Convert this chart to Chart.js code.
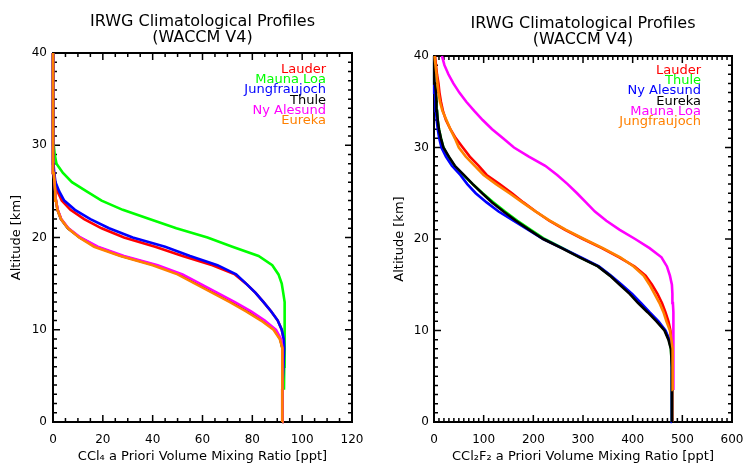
<!DOCTYPE html>
<html lang="en">
<head>
  <meta charset="UTF-8" />
  <title>IRWG Climatological Profiles</title>
  <script src="https://cdn.jsdelivr.net/npm/chart.js"></script>
  <style>
    body { margin: 0; background: #fff; overflow: hidden; }
    canvas { position: absolute; top: 0; }
  </style>
</head>
<body>
  <canvas id="ccl4Chart" width="372" height="464" style="left:0"></canvas>
  <canvas id="ccl2f2Chart" width="371" height="464" style="left:372px"></canvas>

  <script>
    // altitude levels [km], shared by every profile (null = below the station)
    const altitude = [0, 2, 3.5, 6, 8, 9, 10, 11, 12, 13, 14, 15, 16, 17, 18, 19, 20, 21, 22, 23, 24, 25, 26, 27, 28, 29, 30, 31, 32, 33, 34, 35, 36, 37, 38, 39, 40];

    // CCl4 [ppt]
    const ccl4Stations = ['Lauder', 'Mauna Loa', 'Jungfraujoch', 'Thule', 'Ny Alesund', 'Eureka'];
    const ccl4Colors = ['#ff0000', '#00ff00', '#0000ff', '#000000', '#ff00ff', '#ff8000'];
    const ccl4Lauder    = [92, 92, 92, 92.5, 92.8, 92.6, 91.8, 90.2, 87.5, 84.5, 81.3, 77.5, 73, 64, 52, 41, 28.5, 19.5, 12.5, 7, 3.5, 1.8, 0.8, 0.4, 0.15, 0.05, 0, 0, 0, 0, 0, 0, 0, 0, 0, 0, 0];
    const ccl4MaunaLoa  = [null, null, 92.7, 92.8, 93, 93, 93, 93, 93, 92.8, 92.4, 91.8, 90.5, 88, 82.5, 72, 62, 49.5, 38.7, 28, 19.5, 13.5, 7.6, 4, 1.4, 0.7, 0.3, 0.1, 0, 0, 0, 0, 0, 0, 0, 0, 0];
    const ccl4Jungfrau  = [null, null, 92, 92.5, 92.8, 92.6, 91.8, 90.2, 87.5, 84.5, 81.3, 77.5, 73.5, 66, 55, 45, 32, 22.5, 15, 8.8, 4.5, 2.5, 1, 0.5, 0.2, 0.05, 0, 0, 0, 0, 0, 0, 0, 0, 0, 0, 0];
    const ccl4Thule     = [92, 92, 92, 92.2, 92.1, 91.2, 89, 84.2, 78.5, 72, 65, 58, 51, 41, 27.6, 17.4, 10.7, 6, 3.2, 1.8, 1.2, 0.9, 0.6, 0.3, 0.1, 0, 0, 0, 0, 0, 0, 0, 0, 0, 0, 0, 0];
    const ccl4NyAlesund = [92, 92, 92, 92.2, 92.2, 91.5, 89.5, 85, 79.5, 73, 66, 59, 52, 42, 28.5, 18, 11, 6.2, 3.3, 1.9, 1.2, 0.9, 0.6, 0.3, 0.1, 0, 0, 0, 0, 0, 0, 0, 0, 0, 0, 0, 0];
    const ccl4Eureka    = [92, 92, 92, 92.2, 92, 91, 88.5, 83.5, 77.5, 71, 64, 57, 50, 40, 27, 16.5, 10.5, 6, 3.2, 1.8, 1.2, 0.9, 0.6, 0.3, 0.1, 0, 0, 0, 0, 0, 0, 0, 0, 0, 0, 0, 0];

    // CCl2F2 [ppt]
    const cfcStations = ['Lauder', 'Thule', 'Ny Alesund', 'Eureka', 'Mauna Loa', 'Jungfraujoch'];
    const cfcColors = ['#ff0000', '#00ff00', '#0000ff', '#000000', '#ff00ff', '#ff8000'];
    const cfcLauder    = [480, 480, 480, 480, 480, 478, 476, 472, 466, 459, 450, 439, 426, 404, 373, 338, 300, 264, 232, 205, 180, 157, 132, 106, 90, 72, 58, 44, 33, 24, 18, 14, 11, 9, 6, 4, 2];
    const cfcThule     = [479, 479, 479, 479, 477, 473, 465, 450, 432, 413, 396, 376, 355, 331, 294, 259, 223, 195, 168, 143, 120, 98, 78, 59, 41, 29, 19, 14, 10, 7.5, 6, 5, 3.5, 2, 1, 0.5, 0];
    const cfcNyAlesund = [479, 479, 479, 479, 478, 474, 466, 452, 434, 417, 399, 378, 356, 332, 296, 258, 220, 190, 160, 130, 106, 84, 67, 53, 36, 24, 15, 10.5, 7.5, 5.5, 4, 3, 2, 1, 0.5, 0, 0];
    const cfcEureka    = [479, 479, 479, 479, 477, 472, 464, 448, 430, 411, 394, 374, 354, 330, 293, 257, 220, 192, 165, 140, 117, 97, 78, 60, 42, 30, 19, 14, 10, 7.5, 6, 5, 4, 2, 1, 0.5, 0];
    const cfcMaunaLoa  = [null, null, 482, 482, 482, 482, 482, 482, 482, 481, 480, 479, 475, 469, 458, 434, 405, 374, 347, 324, 306, 288, 269, 248, 224, 191, 161, 139, 117, 98, 81, 65, 51, 39, 29, 21, 16];
    const cfcJungfrau  = [null, null, 481, 481, 480, 478, 475, 468, 462, 454, 444, 434, 422, 402, 375, 340, 302, 266, 233, 205, 178, 152, 125, 100, 82, 64, 50, 42, 33, 25, 17, 12, 9, 7, 5, 3, 1];

    const FONT = 'DejaVu Sans';

    function profile(values) {
      return altitude.map((a, i) => ({ x: values[i], y: a })).filter(p => p.x !== null);
    }

    // IDL-like box with inward ticks on all four sides (drawn under the curves),
    // then the coloured station list on top
    const framePlugin = {
      id: 'frame',
      beforeDatasetsDraw(chart, args, opts) {
        const { ctx, chartArea: a, scales: { x, y } } = chart;
        ctx.save();
        ctx.strokeStyle = '#000';
        ctx.lineWidth = 1.5;
        ctx.beginPath();
        const nx = Math.round((x.max - x.min) / opts.xMinor);
        for (let k = 0; k <= nx; k++) {
          const px = x.getPixelForValue(x.min + k * opts.xMinor);
          const len = k % (opts.xMajor / opts.xMinor) === 0 ? 7 : 4;
          ctx.moveTo(px, a.bottom); ctx.lineTo(px, a.bottom - len);
          ctx.moveTo(px, a.top); ctx.lineTo(px, a.top + len);
        }
        const ny = Math.round((y.max - y.min) / opts.yMinor);
        for (let k = 0; k <= ny; k++) {
          const py = y.getPixelForValue(y.min + k * opts.yMinor);
          const len = k % (opts.yMajor / opts.yMinor) === 0 ? 7 : 4;
          ctx.moveTo(a.left, py); ctx.lineTo(a.left + len, py);
          ctx.moveTo(a.right, py); ctx.lineTo(a.right - len, py);
        }
        ctx.stroke();
        ctx.lineWidth = 2;
        ctx.strokeRect(a.left, a.top, a.right - a.left, a.bottom - a.top);
        ctx.restore();
      },
      afterDatasetsDraw(chart, args, opts) {
        const { ctx, chartArea: a } = chart;
        ctx.save();
        ctx.font = '13px "' + FONT + '"';
        ctx.textAlign = 'right';
        ctx.textBaseline = 'alphabetic';
        opts.names.forEach((n, i) => {
          ctx.fillStyle = opts.colors[i];
          ctx.fillText(n, a.right - opts.legendRight, a.top + opts.legendTop + i * 10.2);
        });
        ctx.restore();
      }
    };

    function makeChart(id, cfg) {
      const n = cfg.names.length;
      new Chart(document.getElementById(id), {
        type: 'scatter',
        data: {
          datasets: cfg.names.map((name, i) => ({
            label: name,
            data: profile(cfg.series[i]),
            showLine: true,
            borderColor: cfg.colors[i],
            backgroundColor: cfg.colors[i],
            borderWidth: 2.6,
            pointRadius: 0,
            tension: 0,
            clip: 4,
            order: n - i
          }))
        },
        options: {
          responsive: false,
          animation: false,
          events: [],
          layout: { padding: { left: 0, right: cfg.padRight, top: 0, bottom: 0 } },
          plugins: {
            legend: { display: false },
            tooltip: { enabled: false },
            title: {
              display: true,
              fullSize: false,
              text: ['IRWG Climatological Profiles', '(WACCM V4)'],
              color: '#000',
              font: { family: FONT, size: 16, weight: 'normal', lineHeight: '15.5px' },
              padding: { top: cfg.titleTop, bottom: cfg.titleBottom }
            },
            frame: {
              xMinor: cfg.xMinor, xMajor: cfg.xStep, yMinor: 1, yMajor: 10,
              names: cfg.names, colors: cfg.colors,
              legendRight: cfg.legendRight, legendTop: cfg.legendTop
            }
          },
          scales: {
            x: {
              type: 'linear', min: 0, max: cfg.xMax,
              grid: { display: false, drawTicks: false },
              border: { display: false },
              ticks: { stepSize: cfg.xStep, padding: 11, color: '#000', font: { family: FONT, size: 12 } },
              title: { display: true, text: cfg.xTitle, color: '#000', padding: { top: 0, bottom: 0 }, font: { family: FONT, size: 13 } },
              afterFit(s) { s.height = 42; s.paddingLeft = 0; s.paddingRight = 0; }
            },
            y: {
              type: 'linear', min: 0, max: 40,
              grid: { display: false, drawTicks: false },
              border: { display: false },
              ticks: { stepSize: 10, padding: cfg.yPad, color: '#000', font: { family: FONT, size: 12 } },
              title: { display: true, text: 'Altitude [km]', color: '#000', padding: { top: cfg.yTitlePad, bottom: 0 }, font: { family: FONT, size: 13 } },
              afterFit(s) { s.width = cfg.yWidth; s.paddingTop = 0; s.paddingBottom = 0; }
            }
          }
        },
        plugins: [framePlugin]
      });
    }

    makeChart('ccl4Chart', {
      names: ccl4Stations, colors: ccl4Colors,
      series: [ccl4Lauder, ccl4MaunaLoa, ccl4Jungfrau, ccl4Thule, ccl4NyAlesund, ccl4Eureka],
      xMax: 120, xStep: 20, xMinor: 5,
      xTitle: 'CCl\u2084 a Priori Volume Mixing Ratio [ppt]',
      padRight: 20, yWidth: 53, yPad: 6, yTitlePad: 9,
      titleTop: 14.25, titleBottom: 7.75,
      legendRight: 26, legendTop: 20
    });

    makeChart('ccl2f2Chart', {
      names: cfcStations, colors: cfcColors,
      series: [cfcLauder, cfcThule, cfcNyAlesund, cfcEureka, cfcMaunaLoa, cfcJungfrau],
      xMax: 600, xStep: 100, xMinor: 10,
      xTitle: 'CCl\u2082F\u2082 a Priori Volume Mixing Ratio [ppt]',
      padRight: 11, yWidth: 62, yPad: 5, yTitlePad: 19.5,
      titleTop: 16.25, titleBottom: 8.75,
      legendRight: 31, legendTop: 18
    });
  </script>
</body>
</html>
